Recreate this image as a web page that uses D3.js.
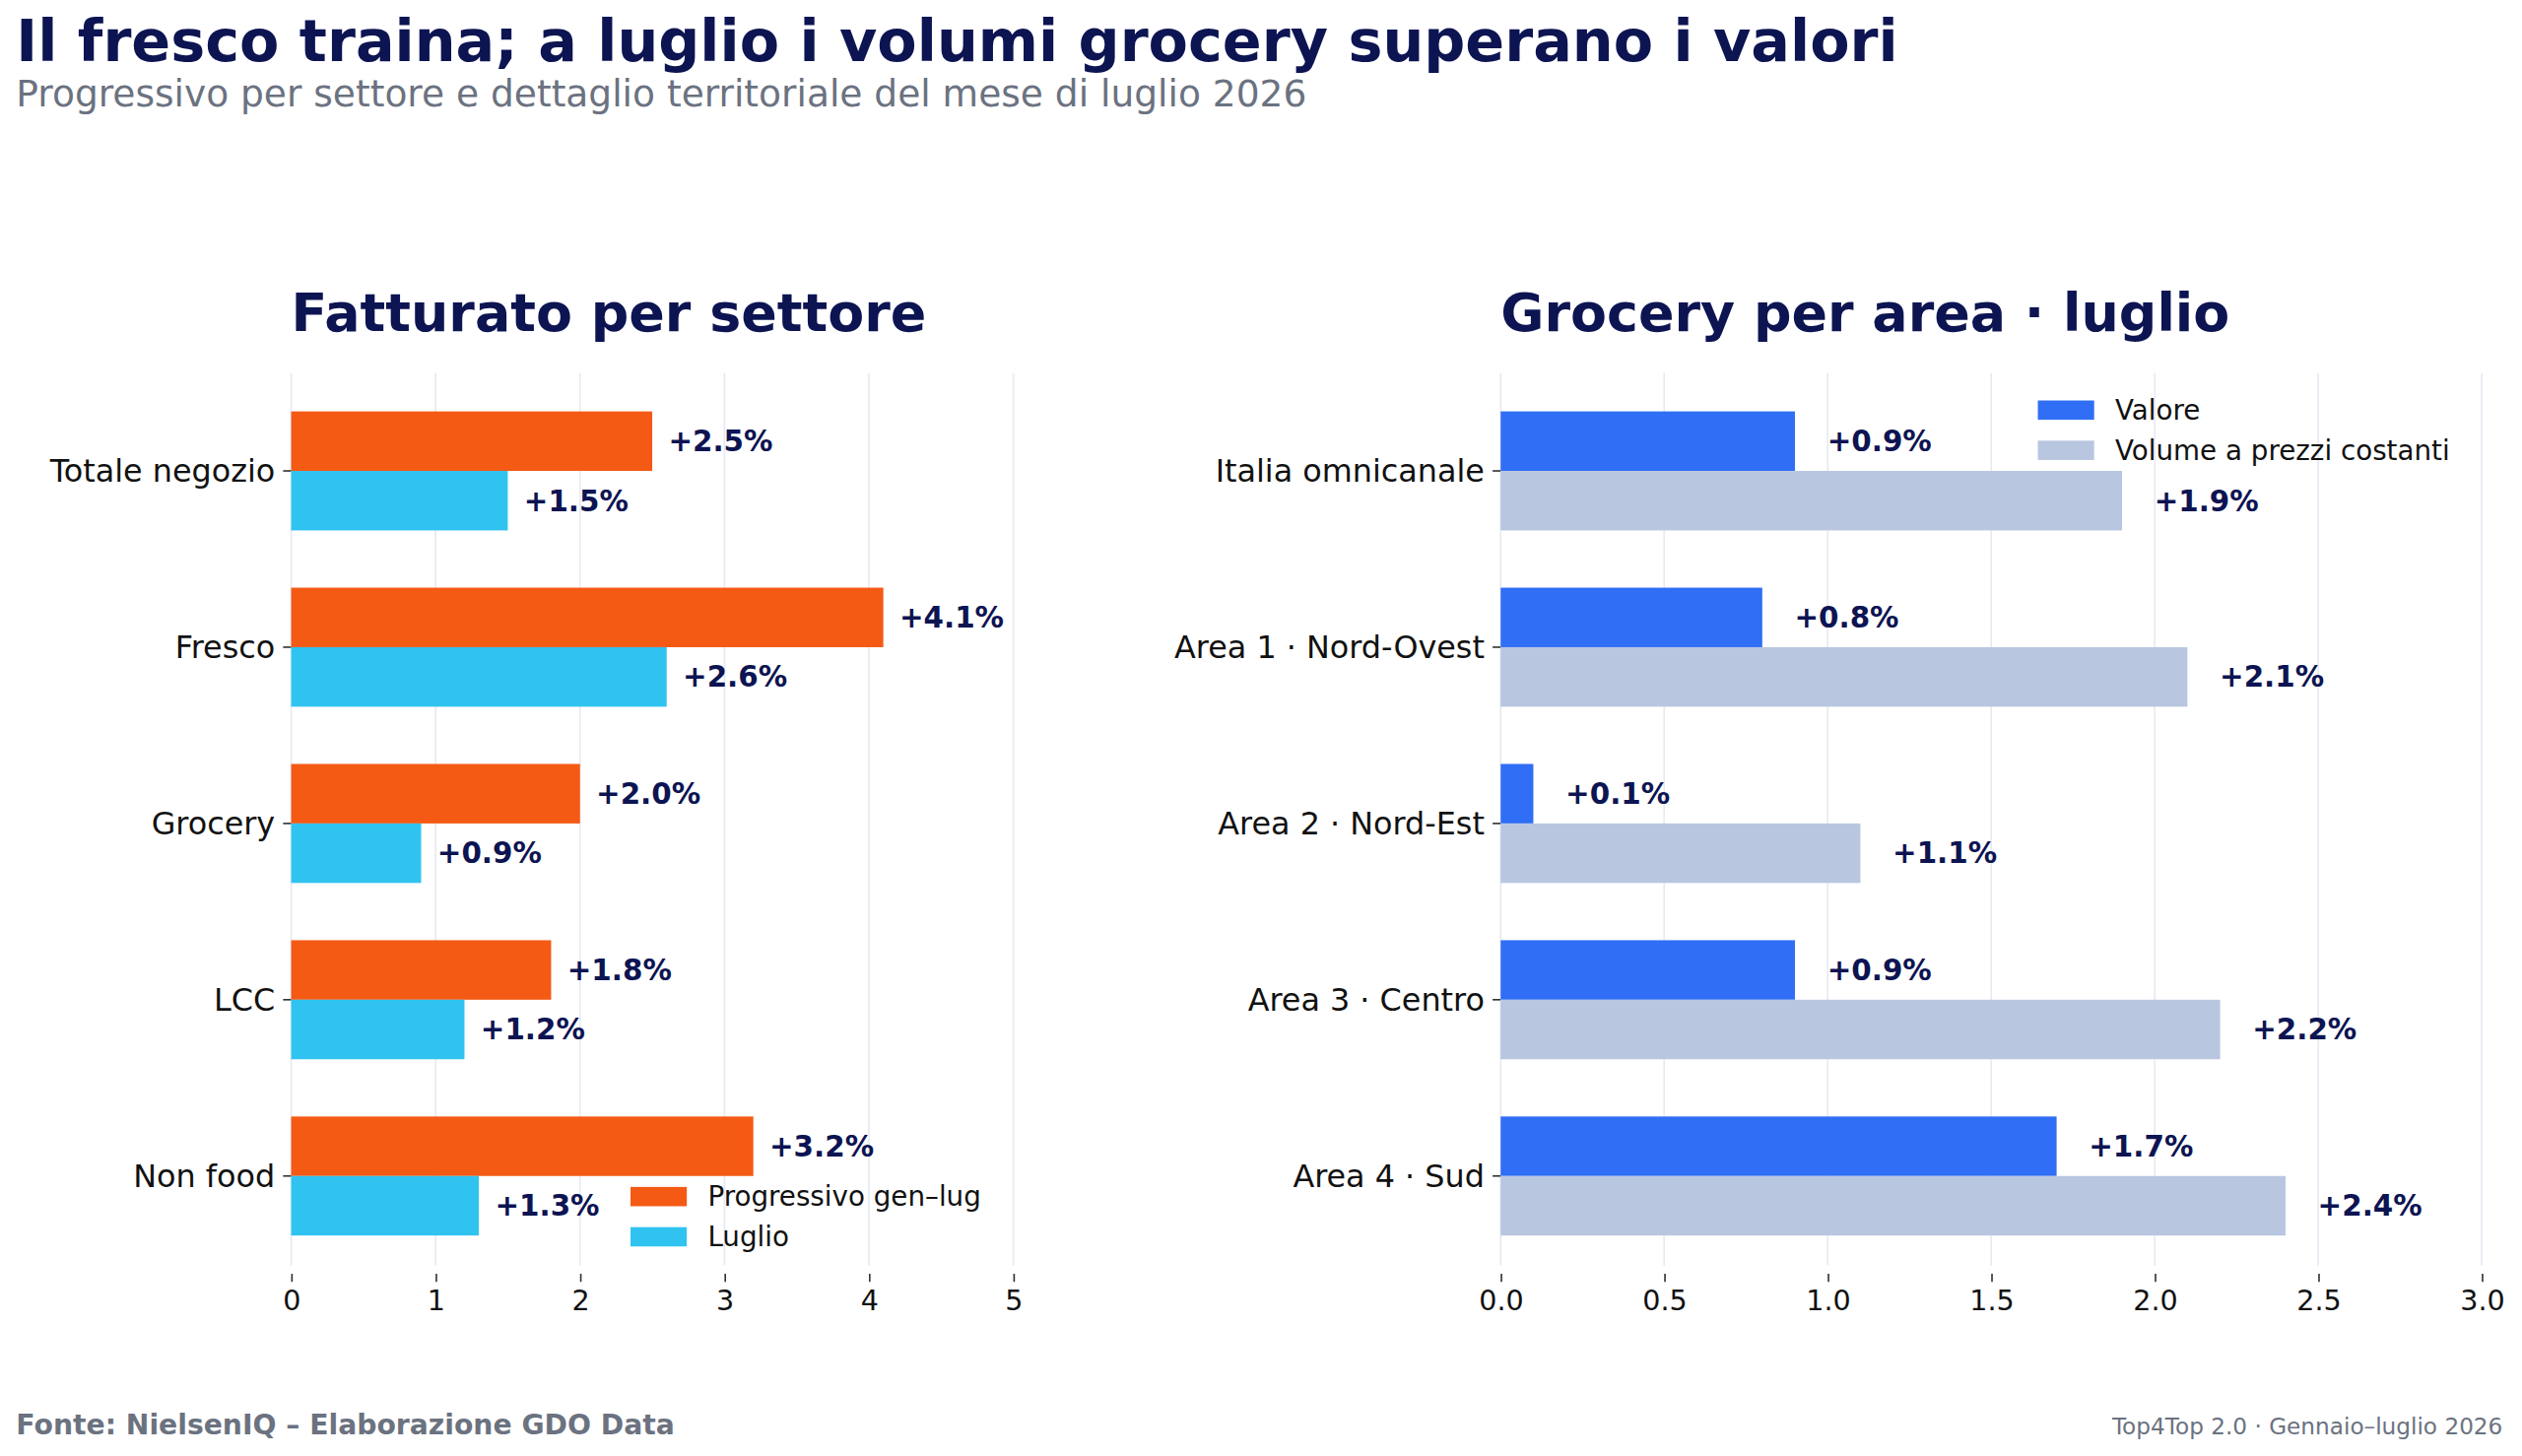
<!DOCTYPE html>
<html lang="it">
<head>
<meta charset="UTF-8" />
<script src="https://d3js.org/d3.v7.min.js"></script>
<style>
  body { margin: 0; background: #fff; font-family: "DejaVu Sans", sans-serif; }
  svg { display: block; }
</style>
</head>
<body>
<script>
// data
const settori = ["Totale negozio", "Fresco", "Grocery", "LCC", "Non food"];
const progressivo = [2.5, 4.1, 2.0, 1.8, 3.2];
const luglio = [1.5, 2.6, 0.9, 1.2, 1.3];

const aree = ["Italia omnicanale", "Area 1 · Nord-Ovest", "Area 2 · Nord-Est", "Area 3 · Centro", "Area 4 · Sud"];
const valore = [0.9, 0.8, 0.1, 0.9, 1.7];
const volume = [1.9, 2.1, 1.1, 2.2, 2.4];

const leftTicks = [0, 1, 2, 3, 4, 5];
const rightTicks = [0, 0.5, 1.0, 1.5, 2.0, 2.5, 3.0];

const navy = "#0d1452", gray = "#6b7280";

const svg = d3.select("body").append("svg")
  .attr("width", 2560).attr("height", 1478)
  .attr("viewBox", "0 0 1568 905.3");

svg.append("text").attr("x", 10).attr("y", 38)
  .attr("font-size", 36).attr("font-weight", "bold").attr("fill", navy)
  .text("Il fresco traina; a luglio i volumi grocery superano i valori");
svg.append("text").attr("x", 10).attr("y", 66)
  .attr("font-size", 23).attr("fill", gray)
  .text("Progressivo per settore e dettaglio territoriale del mese di luglio 2026");

svg.append("text").attr("x", 10).attr("y", 892)
  .attr("font-size", 17.3).attr("font-weight", "bold").attr("fill", gray)
  .text("Fonte: NielsenIQ – Elaborazione GDO Data");
svg.append("text").attr("x", 1556).attr("y", 892).attr("text-anchor", "end")
  .attr("font-size", 14.2).attr("fill", gray)
  .text("Top4Top 2.0 · Gennaio–luglio 2026");

function panel(opt) {
  const g = svg.append("g");
  const x = d3.scaleLinear().domain(opt.domain).range([opt.x0, opt.x1]);
  const y = d3.scaleBand().domain(opt.cats).range([238, 786]).paddingInner(0.3).paddingOuter(0.15);
  const bh = 37;
  const cy = c => y(c) + y.bandwidth() / 2;

  g.append("text").attr("x", opt.x0).attr("y", 206)
    .attr("font-size", 33).attr("font-weight", "bold").attr("fill", navy).text(opt.title);

  g.selectAll(".grid").data(opt.ticks).join("line")
    .attr("x1", d => x(d)).attr("x2", d => x(d))
    .attr("y1", 232).attr("y2", 787)
    .attr("stroke", "#e8e9f2").attr("stroke-width", 1);

  const ax = d3.axisBottom(x).tickValues(opt.ticks).tickFormat(opt.fmt).tickSize(5).tickPadding(5);
  const axg = g.append("g").attr("transform", "translate(0,792)").call(ax);
  axg.select(".domain").remove();
  axg.selectAll("text").attr("font-size", 17.5).attr("fill", "#111").attr("font-family", "DejaVu Sans");
  axg.selectAll("line").attr("stroke", "#333");

  opt.cats.forEach(c => {
    g.append("text").attr("x", opt.x0 - 10).attr("y", cy(c)).attr("dy", "0.35em")
      .attr("text-anchor", "end").attr("font-size", 19.5).attr("fill", "#111").text(c);
    g.append("line").attr("x1", opt.x0 - 5).attr("x2", opt.x0).attr("y1", cy(c)).attr("y2", cy(c)).attr("stroke", "#333");
  });

  opt.series.forEach((s, si) => {
    g.selectAll(null).data(s.values).join("rect")
      .attr("x", x(0)).attr("y", (d, i) => cy(opt.cats[i]) - bh + si * bh)
      .attr("width", d => x(d) - x(0)).attr("height", bh).attr("fill", s.color);
    g.selectAll(null).data(s.values).join("text")
      .attr("x", d => x(d) + opt.lpad).attr("y", (d, i) => cy(opt.cats[i]) - bh / 2 + si * bh)
      .attr("dy", "0.35em").attr("font-size", 18).attr("font-weight", "bold").attr("fill", navy)
      .text(d => "+" + d.toFixed(1) + "%");
  });

  opt.series.forEach((s, si) => {
    const ly = opt.legY + si * 25;
    g.append("rect").attr("x", opt.legX).attr("y", ly - 6).attr("width", 35).attr("height", 12).attr("fill", s.color);
    g.append("text").attr("x", opt.legX + 48).attr("y", ly).attr("dy", "0.35em")
      .attr("font-size", 17).attr("fill", "#111").text(s.name);
  });
}

panel({
  title: "Fatturato per settore", x0: 181, x1: 630, domain: [0, 5], ticks: leftTicks,
  fmt: d3.format("d"), cats: settori, lpad: 10, legX: 392, legY: 744,
  series: [
    { name: "Progressivo gen–lug", values: progressivo, color: "#f45a14" },
    { name: "Luglio", values: luglio, color: "#31c3f0" }
  ]
});

panel({
  title: "Grocery per area · luglio", x0: 933, x1: 1543, domain: [0, 3], ticks: rightTicks,
  fmt: d3.format(".1f"), cats: aree, lpad: 20, legX: 1267, legY: 255,
  series: [
    { name: "Valore", values: valore, color: "#2f6ef5" },
    { name: "Volume a prezzi costanti", values: volume, color: "#b8c6e0" }
  ]
});
</script>
</body>
</html>
